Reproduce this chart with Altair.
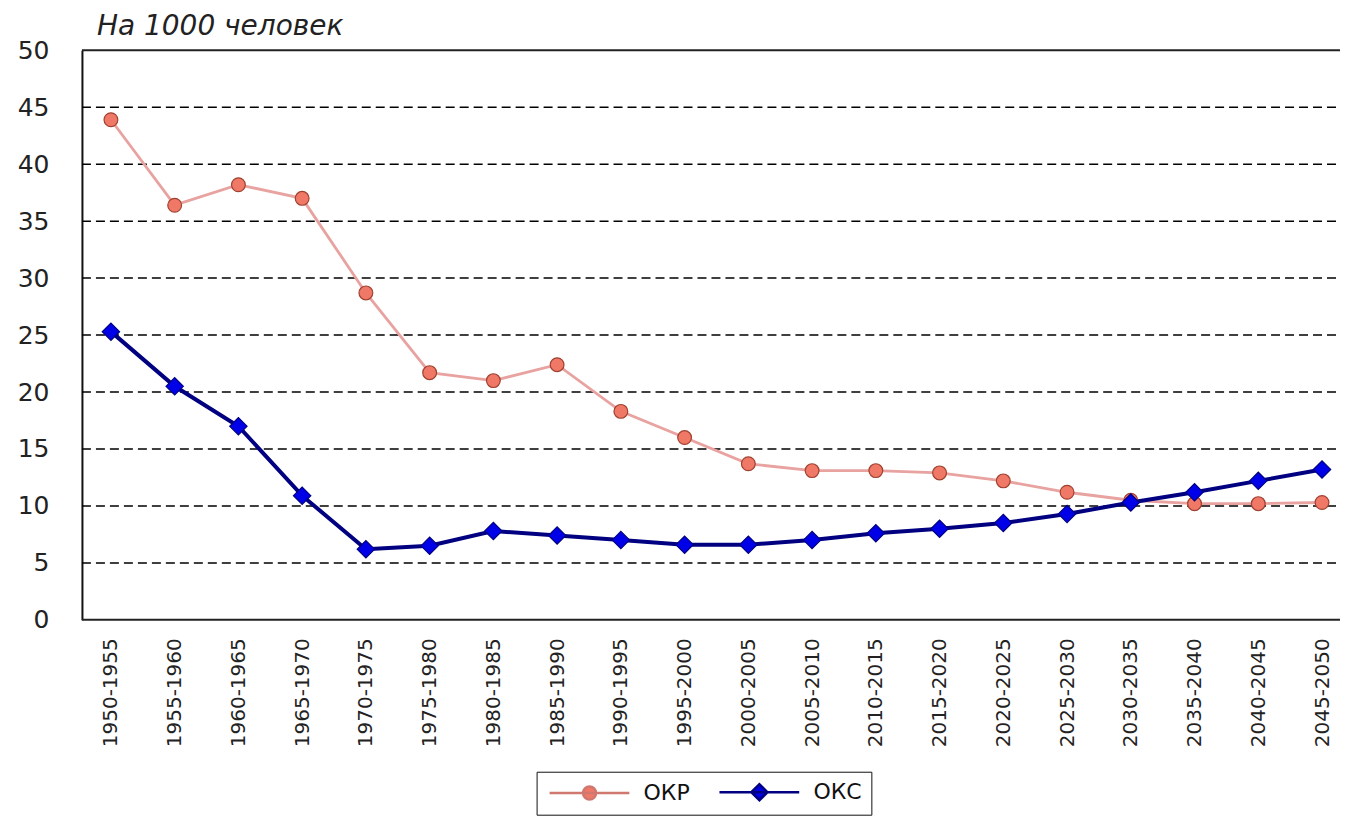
import altair as alt
import pandas as pd

periods = ["1950-1955", "1955-1960", "1960-1965", "1965-1970", "1970-1975",
           "1975-1980", "1980-1985", "1985-1990", "1990-1995", "1995-2000",
           "2000-2005", "2005-2010", "2010-2015", "2015-2020", "2020-2025",
           "2025-2030", "2030-2035", "2035-2040", "2040-2045", "2045-2050"]
okr = [43.9, 36.4, 38.2, 37.0, 28.7, 21.7, 21.0, 22.4, 18.3, 16.0,
       13.7, 13.1, 13.1, 12.9, 12.2, 11.2, 10.5, 10.2, 10.2, 10.3]
oks = [25.3, 20.5, 17.0, 10.9, 6.2, 6.5, 7.8, 7.4, 7.0, 6.6,
       6.6, 7.0, 7.6, 8.0, 8.5, 9.3, 10.3, 11.2, 12.2, 13.2]
series_names = ["ОКР", "ОКС"]
y_ticks = [0, 5, 10, 15, 20, 25, 30, 35, 40, 45, 50]
grid_values = [5, 10, 15, 20, 25, 30, 35, 40, 45]
title_text = "На 1000 человек"

rows = []
for name, vals in zip(series_names, [okr, oks]):
    for p, v in zip(periods, vals):
        rows.append({"Period": p, "Series": name, "Legend": name, "Value": v})
df = pd.DataFrame(rows)

W, H = 1259, 570
FONT = "DejaVu Sans"

x_axis = alt.Axis(title=None, labelAngle=-90, labelFont=FONT, labelFontSize=20,
                  labelPadding=18, ticks=False, domain=False,
                  grid=False, labelColor="#222")
y_axis = alt.Axis(title=None, values=y_ticks, labelFont=FONT, labelFontSize=25,
                  labelPadding=33, ticks=False, domainColor="#111", domainWidth=2,
                  grid=False, labelColor="#222")

x_enc = alt.X("Period:N", sort=periods,
              scale=alt.Scale(type="point", range=[29, 1241], padding=0), axis=x_axis)
y_scale = alt.Scale(domain=[0, 50], nice=False)
y_enc = alt.Y("Value:Q", scale=y_scale, axis=y_axis)

base = alt.Chart(df)

grid = alt.Chart(pd.DataFrame({"Value": grid_values})).mark_rule(
    color="#000", strokeWidth=1.5, strokeDash=[9, 5]
).encode(y=y_enc, x=alt.value(0), x2=alt.value(W))

borders = alt.Chart(pd.DataFrame({"Value": [0, 50]})).mark_rule(color="#222", strokeWidth=2).encode(
    y=y_enc, x=alt.value(0), x2=alt.value(W)
)

lines = base.mark_line().encode(
    x=x_enc, y=y_enc,
    color=alt.Color("Series:N", scale=alt.Scale(domain=series_names, range=["#E8A2A0", "#000080"]), legend=None),
    strokeWidth=alt.StrokeWidth("Series:N", scale=alt.Scale(domain=series_names, range=[2.8, 4]), legend=None),
)

points = base.mark_point(filled=True, opacity=1, strokeWidth=1.2).encode(
    x=x_enc, y=y_enc,
    fill=alt.Fill("Series:N", scale=alt.Scale(domain=series_names, range=["#F07866", "#0000E8"]), legend=None),
    stroke=alt.Stroke("Series:N", scale=alt.Scale(domain=series_names, range=["#A04030", "#000080"]), legend=None),
    shape=alt.Shape("Series:N", scale=alt.Scale(domain=series_names, range=["circle", "diamond"]), legend=None),
    size=alt.Size("Series:N", scale=alt.Scale(domain=series_names, range=[190, 300]), legend=None),
)

leg = alt.Legend(title=None, orient="none", legendX=455, legendY=722,
                 direction="horizontal", strokeColor="#111", padding=9,
                 symbolSize=196, symbolStrokeWidth=2.5, symbolOpacity=1,
                 labelFont=FONT, labelFontSize=22, labelColor="#111",
                 columnPadding=24, labelOffset=76)
path_circle = "M-1,0L10.4,0M3.78,0A0.93,0.93,0,1,1,5.64,0A0.93,0.93,0,1,1,3.78,0Z"
path_diamond = "M-1,0L10.4,0M3.56,0L4.71,-1.15L5.86,0L4.71,1.15Z"

legend_layer = base.transform_filter(
    alt.datum.Period == periods[0]
).mark_point(filled=True, opacity=0).encode(
    x=x_enc, y=y_enc,
    fill=alt.Fill("Legend:N", scale=alt.Scale(domain=series_names, range=["#F07866", "#0000E8"]), legend=leg),
    stroke=alt.Stroke("Legend:N", scale=alt.Scale(domain=series_names, range=["#D07870", "#000080"]), legend=leg),
    shape=alt.Shape("Legend:N", scale=alt.Scale(domain=series_names, range=[path_circle, path_diamond]), legend=leg),
)

chart = alt.layer(grid, borders, lines, points, legend_layer).resolve_scale(
    fill="independent", stroke="independent", shape="independent"
).properties(
    width=W, height=H,
    title=alt.TitleParams(title_text, anchor="start", frame="group", dx=15,
                          font=FONT, fontSize=28, fontStyle="italic",
                          fontWeight="normal", color="#222", offset=-3),
    padding={"left": 9, "top": 5, "right": 0, "bottom": 0},
    background="white",
).configure_view(stroke=None)

chart.save("out.html", embed_options={"renderer": "svg", "actions": False})
